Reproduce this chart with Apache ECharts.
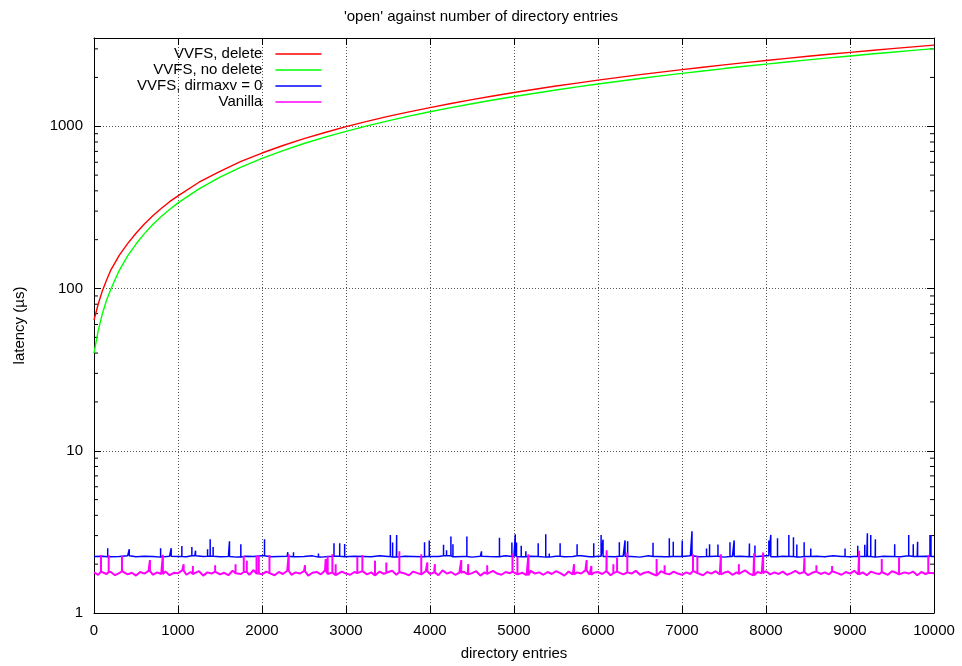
<!DOCTYPE html>
<html>
<head>
<meta charset="utf-8">
<title>'open' against number of directory entries</title>
<script src="https://cdn.jsdelivr.net/npm/echarts/dist/echarts.min.js"></script>
<style>
  html, body { margin: 0; padding: 0; background: #fff; }
  #chart { width: 962px; height: 666px; }
</style>
</head>
<body>
<div id="chart"></div>
<script>
// ---- data ----
var seriesNames = ["VVFS, delete", "VVFS, no delete", "VVFS, dirmaxv = 0", "Vanilla"];

// smooth curves: directory entries -> latency (us)
var curveEntries = [0, 50, 100, 150, 200, 300, 400, 500, 600, 700, 800, 900, 1000,
  1250, 1500, 1750, 2000, 2250, 2500, 2750, 3000, 3250, 3500, 3750, 4000,
  4250, 4500, 4750, 5000, 5250, 5500, 5750, 6000, 6250, 6500, 6750, 7000,
  7250, 7500, 7750, 8000, 8250, 8500, 8750, 9000, 9250, 9500, 9750, 10000];
var deleteLatency = [64, 80, 97, 113, 130, 160, 189, 219, 250, 281, 311, 343, 372,
  452, 528, 607, 684, 761, 840, 916, 994, 1071, 1150, 1226, 1304,
  1381, 1460, 1536, 1614, 1692, 1770, 1846, 1924, 2001, 2080, 2156, 2234,
  2312, 2389, 2466, 2545, 2621, 2699, 2778, 2854, 2931, 3010, 3086, 3164];
var noDeleteLatency = [40, 55, 70, 85, 99, 129, 159, 188, 218, 248, 278, 307, 337,
  411, 486, 560, 634, 708, 783, 857, 931, 1005, 1080, 1154, 1228,
  1302, 1377, 1451, 1525, 1599, 1674, 1748, 1822, 1896, 1971, 2045, 2119,
  2193, 2268, 2342, 2416, 2490, 2565, 2639, 2713, 2787, 2862, 2936, 3010];

// noisy baselines, one sample every step entries
var dirmaxvStep = 100;
var dirmaxvBase = [2.23, 2.24, 2.22, 2.23, 2.25, 2.22, 2.24, 2.23, 2.21, 2.24,
  2.23, 2.22, 2.25, 2.23, 2.24, 2.22, 2.23, 2.21, 2.24, 2.23,
  2.25, 2.22, 2.23, 2.24, 2.22, 2.23, 2.25, 2.21, 2.23, 2.24,
  2.22, 2.24, 2.23, 2.22, 2.25, 2.23, 2.21, 2.24, 2.23, 2.22,
  2.24, 2.23, 2.25, 2.22, 2.23, 2.21, 2.24, 2.23, 2.22, 2.25,
  2.23, 2.22, 2.24, 2.23, 2.21, 2.24, 2.22, 2.23, 2.25, 2.22,
  2.24, 2.23, 2.22, 2.24, 2.23, 2.21, 2.25, 2.23, 2.22, 2.24,
  2.23, 2.25, 2.22, 2.23, 2.24, 2.21, 2.23, 2.24, 2.22, 2.23,
  2.25, 2.22, 2.24, 2.23, 2.21, 2.23, 2.24, 2.22, 2.25, 2.23,
  2.22, 2.24, 2.23, 2.21, 2.24, 2.23, 2.22, 2.25, 2.23, 2.24,
  2.23];
var vanillaStep = 50;
var vanillaBase = [1.78, 1.72, 1.80, 1.74, 1.79, 1.71, 1.76, 1.81, 1.73, 1.77, 1.70, 1.79, 1.75, 1.82, 1.72, 1.78, 1.74, 1.80, 1.71, 1.77,
  1.76, 1.83, 1.72, 1.79, 1.74, 1.81, 1.70, 1.78, 1.75, 1.80, 1.73, 1.77, 1.71, 1.82, 1.76, 1.74, 1.79, 1.72, 1.84, 1.75,
  1.73, 1.80, 1.76, 1.71, 1.79, 1.74, 1.82, 1.72, 1.78, 1.75, 1.81, 1.70, 1.77, 1.79, 1.73, 1.83, 1.74, 1.78, 1.71, 1.80,
  1.75, 1.72, 1.79, 1.76, 1.81, 1.73, 1.78, 1.70, 1.80, 1.74, 1.77, 1.82, 1.72, 1.79, 1.75, 1.71, 1.80, 1.76, 1.73, 1.81,
  1.74, 1.78, 1.71, 1.83, 1.75, 1.79, 1.72, 1.77, 1.80, 1.73, 1.76, 1.81, 1.70, 1.78, 1.74, 1.82, 1.75, 1.72, 1.79, 1.76,
  1.80, 1.73, 1.77, 1.71, 1.82, 1.75, 1.78, 1.72, 1.79, 1.74, 1.81, 1.76, 1.70, 1.80, 1.73, 1.78, 1.75, 1.83, 1.72, 1.77,
  1.79, 1.74, 1.81, 1.71, 1.76, 1.80, 1.73, 1.78, 1.75, 1.82, 1.72, 1.77, 1.79, 1.74, 1.70, 1.81, 1.76, 1.73, 1.80, 1.75,
  1.72, 1.78, 1.74, 1.82, 1.76, 1.71, 1.79, 1.75, 1.81, 1.73, 1.77, 1.80, 1.72, 1.78, 1.74, 1.83, 1.75, 1.71, 1.79, 1.76,
  1.81, 1.73, 1.78, 1.74, 1.80, 1.72, 1.76, 1.82, 1.75, 1.79, 1.71, 1.77, 1.80, 1.74, 1.78, 1.73, 1.81, 1.76, 1.72, 1.79,
  1.75, 1.82, 1.73, 1.78, 1.71, 1.80, 1.76, 1.74, 1.79, 1.72, 1.81, 1.77, 1.73, 1.78, 1.75, 1.80, 1.71, 1.79, 1.74, 1.77,
  1.76];

// spikes: [entries, peak latency]
var dirmaxvSpikes = [[163, 2.51], [420, 2.47], [793, 2.51], [919, 2.51], [1046, 2.59], [1165, 2.55], [1209, 2.42],
  [1352, 2.47], [1383, 2.85], [1418, 2.55], [1613, 2.77], [1748, 2.65], [2030, 2.85], [2307, 2.37], [2375, 2.37],
  [2672, 2.33], [2857, 2.69], [2925, 2.69], [2984, 2.66], [3528, 3.02], [3555, 2.72], [3603, 3.02], [3935, 2.73],
  [3991, 2.80], [4161, 2.63], [4197, 2.44], [4249, 2.96], [4273, 2.65], [4439, 2.96], [4613, 2.40], [4827, 2.91],
  [4975, 2.72], [5015, 3.06], [5030, 2.72], [5086, 2.60], [5141, 2.40], [5288, 2.69], [5378, 3.06], [5420, 2.33],
  [5549, 2.69], [5751, 2.65], [5949, 2.69], [6037, 3.02], [6060, 2.83], [6254, 2.73], [6322, 2.80], [6353, 2.77],
  [6655, 2.71], [6849, 2.89], [6896, 2.75], [7003, 2.80], [7119, 3.19], [7292, 2.50], [7328, 2.65], [7428, 2.64],
  [7571, 2.73], [7621, 2.80], [7803, 2.68], [7868, 2.61], [8034, 2.80], [8057, 3.03], [8137, 2.89], [8272, 3.02],
  [8327, 2.93], [8367, 2.64], [8454, 2.73], [8533, 2.50], [8941, 2.50], [9092, 2.60], [9176, 2.63], [9207, 3.10],
  [9247, 3.02], [9302, 2.85], [9532, 2.65], [9699, 3.03], [9753, 2.65], [9805, 2.75], [9952, 3.02], [9964, 3.02]];
var vanillaSpikes = [[83, 2.28], [175, 2.28], [333, 2.25], [666, 2.12], [820, 2.28], [1067, 2.00], [1177, 1.95],
  [1442, 1.97], [1685, 2.00], [1783, 2.25], [1819, 2.10], [1935, 2.26], [1962, 2.25], [2089, 2.28], [2318, 2.30],
  [2512, 1.97], [2758, 2.15], [2782, 2.25], [2838, 2.30], [2877, 2.00], [3135, 2.22], [3195, 2.28], [3345, 2.10],
  [3480, 2.05], [3635, 2.40], [3896, 2.30], [3968, 2.05], [4058, 2.00], [4372, 2.12], [4455, 2.00], [4681, 1.97],
  [4982, 2.33], [5041, 2.22], [5172, 2.30], [5715, 2.00], [5865, 2.12], [5921, 1.95], [6103, 2.44], [6183, 2.00],
  [6227, 2.20], [6349, 2.36], [6698, 2.15], [6793, 1.97], [7131, 2.30], [7183, 2.25], [7463, 2.30], [7677, 2.00],
  [7859, 2.33], [7966, 2.36], [8458, 2.20], [8600, 1.97], [8787, 1.95], [9108, 2.42], [9378, 2.15], [9584, 2.20],
  [9932, 2.28]];

// log axis minor ticks (gnuplot style 2..9 per decade)
var minorTicks = [2, 3, 4, 5, 6, 7, 8, 9, 20, 30, 40, 50, 60, 70, 80, 90,
  200, 300, 400, 500, 600, 700, 800, 900, 2000, 3000];

(function () {
  var FONT = "'Liberation Sans', Arial, Helvetica, sans-serif";

  function pairs(xs, ys) {
    return xs.map(function (x, i) { return [x, ys[i]]; });
  }

  // baseline samples + vertical spikes standing on the nearest sample
  function noisy(step, base, spikes) {
    var pts = base.map(function (v, i) { return { x: i * step, k: 0, y: v }; });
    spikes.forEach(function (s) {
      var b = base[Math.min(base.length - 1, Math.round(s[0] / step))];
      pts.push({ x: s[0], k: 1, y: b }, { x: s[0], k: 2, y: s[1] }, { x: s[0], k: 3, y: b });
    });
    pts.sort(function (a, b) { return a.x - b.x || a.k - b.k; });
    return pts.map(function (p) { return [p.x, p.y]; });
  }

  var myChart = echarts.init(document.getElementById("chart"));

  var axisLine = { show: true, onZero: false, lineStyle: { color: "#000", width: 1 } };
  var tick = { show: true, inside: true, length: 7, lineStyle: { color: "#000", width: 1 } };
  var grid = { show: true, lineStyle: { color: "#555", width: 1, type: [1, 2] } };

  function isDecade(v) {
    var l = Math.log(v) / Math.LN10;
    return Math.abs(l - Math.round(l)) < 1e-6;
  }

  var option = {
    animation: false,
    backgroundColor: "#fff",
    textStyle: { fontFamily: FONT, fontSize: 15, color: "#000" },
    title: {
      text: "'open' against number of directory entries",
      left: "center",
      top: 4,
      textStyle: { fontFamily: FONT, fontSize: 15, fontWeight: "normal", color: "#000" }
    },
    legend: {
      data: seriesNames,
      orient: "vertical",
      align: "right",
      icon: "rect",
      left: 137,
      top: 46,
      padding: 0,
      itemGap: 0,
      itemWidth: 46,
      itemHeight: 1.6,
      textStyle: { fontFamily: FONT, fontSize: 15, color: "#000", lineHeight: 16, padding: [0, 8, 0, 0] }
    },
    grid: { left: 94, right: 28, top: 38, bottom: 52, containLabel: false },
    xAxis: [
      {
        type: "value", min: 0, max: 10000, interval: 1000, position: "bottom",
        name: "directory entries", nameLocation: "middle", nameGap: 33,
        nameTextStyle: { fontFamily: FONT, fontSize: 15, color: "#000" },
        axisLine: axisLine, axisTick: tick,
        axisLabel: {
          margin: 10, color: "#000", fontFamily: FONT, fontSize: 15,
          formatter: function (v) { return String(v); }
        },
        splitLine: grid
      },
      {
        type: "value", min: 0, max: 10000, interval: 1000, position: "top",
        axisLine: axisLine, axisTick: tick, axisLabel: { show: false }, splitLine: { show: false }
      }
    ],
    yAxis: [
      {
        type: "log", logBase: 10, min: 1, max: 3500, position: "left",
        name: "latency (µs)", nameLocation: "middle", nameGap: 67,
        nameTextStyle: { fontFamily: FONT, fontSize: 15, color: "#000" },
        axisLine: axisLine, axisTick: tick,
        axisLabel: {
          margin: 11, color: "#000", fontFamily: FONT, fontSize: 15,
          formatter: function (v) { return isDecade(v) ? String(Math.round(v)) : ""; }
        },
        splitLine: grid
      },
      {
        type: "log", logBase: 10, min: 1, max: 3500, position: "right",
        axisLine: axisLine, axisTick: tick, axisLabel: { show: false }, splitLine: { show: false }
      }
    ],
    series: [
      {
        name: seriesNames[0], type: "line", showSymbol: false, symbol: "none",
        color: "#ff0000", lineStyle: { width: 1.4 },
        data: pairs(curveEntries, deleteLatency)
      },
      {
        name: seriesNames[1], type: "line", showSymbol: false, symbol: "none",
        color: "#00ff00", lineStyle: { width: 1.4 },
        data: pairs(curveEntries, noDeleteLatency)
      },
      {
        name: seriesNames[2], type: "line", showSymbol: false, symbol: "none",
        color: "#0000ff", lineStyle: { width: 1.5 },
        data: noisy(dirmaxvStep, dirmaxvBase, dirmaxvSpikes)
      },
      {
        name: seriesNames[3], type: "line", showSymbol: false, symbol: "none",
        color: "#ff00ff", lineStyle: { width: 2 },
        data: noisy(vanillaStep, vanillaBase, vanillaSpikes)
      },
      {
        // minor ticks on left and right frame edges
        type: "custom", silent: true, xAxisIndex: 0, yAxisIndex: 0,
        data: minorTicks.map(function (v) { return [0, v]; }),
        renderItem: function (params, api) {
          var left = api.coord([0, api.value(1)]);
          var right = api.coord([10000, api.value(1)]);
          return {
            type: "group",
            children: [
              { type: "line", shape: { x1: left[0], y1: left[1], x2: left[0] + 4, y2: left[1] }, style: { stroke: "#000", lineWidth: 1 } },
              { type: "line", shape: { x1: right[0] - 4, y1: right[1], x2: right[0], y2: right[1] }, style: { stroke: "#000", lineWidth: 1 } }
            ]
          };
        }
      }
    ]
  };

  myChart.setOption(option);
  window.addEventListener("resize", function () {
    myChart.resize();
  });
})();
</script>
</body>
</html>
